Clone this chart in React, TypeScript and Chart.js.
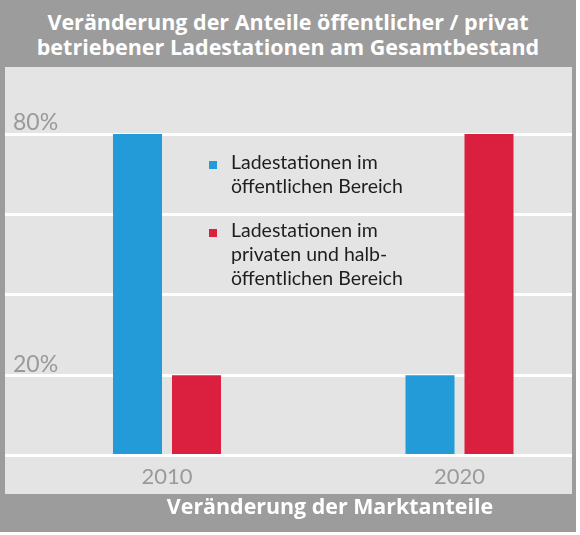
import React, { useEffect, useRef } from 'react';
import { Chart, registerables } from 'chart.js';

Chart.register(...registerables);

const years = [2010, 2020];
const publicShare = [80, 20];
const privateShare = [20, 80];
const seriesNames = [
  'Ladestationen im\nöffentlichen Bereich',
  'Ladestationen im\nprivaten und halb-\nöffentlichen Bereich',
];
const seriesColors = ['#239bd8', '#db1f3f'];
const yTickLabels = [20, 80];
const titleLines = [
  'Veränderung der Anteile öffentlicher / privat',
  'betriebener Ladestationen am Gesamtbestand',
];
const xTitle = 'Veränderung der Marktanteile';

const FRAME = '#9c9c9c';
const PANEL = '#e4e4e4';
const TICK = '#9a9a9a';
const FONT = 'Lato, "Open Sans", sans-serif';
const BOLD_FONT = '"Open Sans", Lato, sans-serif';

export default function App() {
  const ref = useRef<HTMLCanvasElement | null>(null);

  useEffect(() => {
    if (!ref.current) return;
    Chart.defaults.font.family = FONT;
    const series = [publicShare, privateShare];
    const chart = new Chart(ref.current, {
      type: 'bar',
      data: {
        datasets: series.map((vals, si) => ({
          label: seriesNames[si].replace(/\n/g, ' '),
          data: years.map((yr, i) => ({ x: yr, y: vals[i] })),
          backgroundColor: seriesColors[si],
          borderWidth: 0,
          categoryPercentage: 0.4034,
          barPercentage: 0.8305,
        })),
      },
      options: {
        responsive: false,
        animation: false,
        layout: { padding: { left: -8, right: 0, top: 67, bottom: 6 } },
        plugins: {
          legend: { display: false },
          title: { display: false },
          tooltip: { enabled: false },
        },
        scales: {
          x: {
            type: 'linear',
            min: 2004.462,
            max: 2023.846,
            bounds: 'data',
            offset: false,
            grid: { display: false, drawTicks: false },
            border: { display: false },
            afterBuildTicks: (axis: any) => {
              axis.ticks = years.map((v) => ({ value: v }));
            },
            ticks: {
              padding: 8,
              color: TICK,
              font: { family: FONT, size: 22 },
              maxRotation: 0,
              autoSkip: false,
              callback: (v: any) => String(v),
            },
          },
          y: {
            min: 0,
            max: 80,
            grid: { color: '#ffffff', lineWidth: 3, drawTicks: false },
            border: { display: false },
            ticks: {
              stepSize: 20,
              mirror: true,
              padding: 8,
              labelOffset: -11,
              color: TICK,
              font: { family: FONT, size: 23 },
              callback: (v: any) => (yTickLabels.includes(Number(v)) ? `${v}%` : ''),
            },
          },
        },
      } as any,
    });
    return () => chart.destroy();
  }, []);

  const legendTops = [149.5 - 67, 217.5 - 67];

  return (
    <div style={{ position: 'fixed', left: 0, top: 0, width: 580, height: 535, background: '#ffffff' }}>
      <div style={{ position: 'absolute', left: 0, top: 0, width: 576, height: 532, background: FRAME }}>
        <div
          style={{
            position: 'absolute',
            left: 0,
            top: 9,
            width: 576,
            textAlign: 'center',
            color: '#ffffff',
            fontFamily: BOLD_FONT,
            fontWeight: 700,
            fontSize: 21.5,
            lineHeight: '25px',
          }}
        >
          {titleLines.map((l, i) => (
            <div key={i}>{l}</div>
          ))}
        </div>
        <div style={{ position: 'absolute', left: 5, top: 67, width: 567, height: 427, background: PANEL }}>
          <canvas
            ref={ref}
            width={575}
            height={437}
            style={{ position: 'absolute', left: -8, top: 0, width: 575, height: 437 }}
          />
          {seriesNames.map((name, i) => (
            <div key={i} style={{ position: 'absolute', left: 204, top: legendTops[i] }}>
              <div
                style={{
                  position: 'absolute',
                  left: 0,
                  top: 11.5,
                  width: 8,
                  height: 8,
                  background: seriesColors[i],
                }}
              />
              <div
                style={{
                  position: 'absolute',
                  left: 22,
                  top: 0,
                  whiteSpace: 'pre',
                  fontFamily: FONT,
                  fontSize: 19.5,
                  lineHeight: '24px',
                  color: '#1e1e1e',
                }}
              >
                {name}
              </div>
            </div>
          ))}
        </div>
        <div
          style={{
            position: 'absolute',
            left: 130,
            top: 494,
            width: 400,
            textAlign: 'center',
            color: '#ffffff',
            fontFamily: BOLD_FONT,
            fontWeight: 700,
            fontSize: 21.4,
            lineHeight: '24px',
          }}
        >
          {xTitle}
        </div>
      </div>
    </div>
  );
}
